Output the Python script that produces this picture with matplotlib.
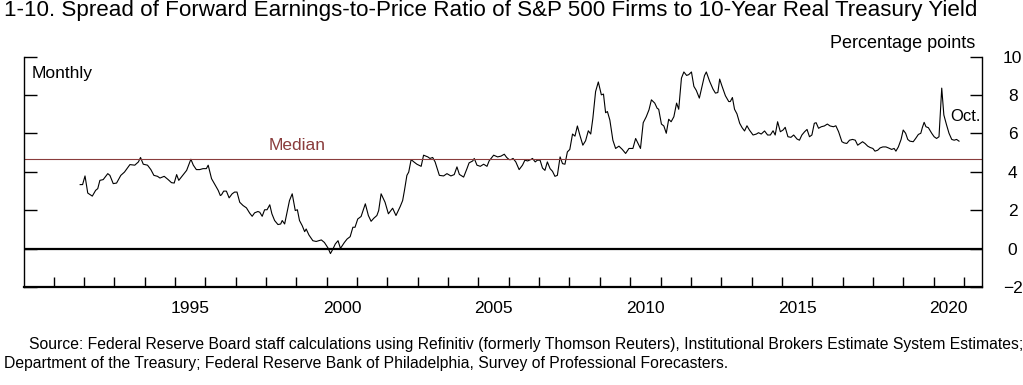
import matplotlib
matplotlib.use('Agg')
import matplotlib.pyplot as plt
from matplotlib.ticker import MultipleLocator, FixedLocator, NullFormatter, FixedFormatter

plt.rcParams['font.family'] = ['Liberation Sans', 'DejaVu Sans']

# monthly spread (decimal year, percentage points)
years = [
    1991.87, 1991.95,
    1992.03, 1992.12, 1992.27, 1992.38, 1992.45, 1992.52, 1992.63, 1992.78, 1992.85, 1992.96,
    1993.07, 1993.21, 1993.33, 1993.51, 1993.67, 1993.79, 1993.86, 1993.95,
    1994.09, 1994.20, 1994.30, 1994.42, 1994.50, 1994.64, 1994.77, 1994.88, 1994.97,
    1995.05, 1995.12, 1995.27, 1995.38, 1995.52, 1995.60, 1995.70, 1995.81, 1995.92,
    1996.03, 1996.09, 1996.20, 1996.42, 1996.49, 1996.53, 1996.60, 1996.69, 1996.78, 1996.88, 1996.96,
    1997.04, 1997.13, 1997.24, 1997.35, 1997.46, 1997.54, 1997.62, 1997.73, 1997.79, 1997.87, 1997.95,
    1998.03, 1998.12, 1998.19, 1998.28, 1998.39, 1998.48, 1998.53, 1998.61, 1998.70, 1998.77, 1998.86, 1998.96,
    1999.03, 1999.10, 1999.19, 1999.27, 1999.32, 1999.41, 1999.54, 1999.65, 1999.82, 1999.92,
    2000.04, 2000.12, 2000.20, 2000.28, 2000.37, 2000.45, 2000.58, 2000.67, 2000.77, 2000.86, 2000.93,
    2001.02, 2001.13, 2001.27, 2001.37, 2001.46, 2001.55, 2001.65, 2001.71, 2001.79, 2001.92,
    2002.03, 2002.17, 2002.28, 2002.42, 2002.50, 2002.56, 2002.64, 2002.70, 2002.78, 2002.87, 2002.97,
    2003.11, 2003.19, 2003.33, 2003.40, 2003.49, 2003.57, 2003.71, 2003.85, 2003.96,
    2004.09, 2004.20, 2004.29, 2004.37, 2004.51, 2004.62, 2004.69, 2004.81, 2004.86, 2004.95,
    2005.06, 2005.17, 2005.28, 2005.35, 2005.50, 2005.63, 2005.74, 2005.85, 2005.93,
    2006.01, 2006.07, 2006.14, 2006.23, 2006.34, 2006.45, 2006.53, 2006.62, 2006.72, 2006.78, 2006.87, 2006.94,
    2007.03, 2007.11, 2007.19, 2007.27, 2007.36, 2007.44, 2007.52, 2007.60, 2007.69, 2007.77, 2007.85, 2007.93,
    2008.01, 2008.10, 2008.18, 2008.26, 2008.34, 2008.44, 2008.53, 2008.62, 2008.70, 2008.77, 2008.86, 2008.95,
    2009.05, 2009.12, 2009.19, 2009.25, 2009.33, 2009.43, 2009.52, 2009.63, 2009.74, 2009.85, 2009.96,
    2010.09, 2010.18, 2010.27, 2010.34, 2010.43, 2010.53, 2010.62, 2010.70, 2010.81, 2010.89, 2010.94,
    2011.03, 2011.11, 2011.19, 2011.27, 2011.35, 2011.44, 2011.53, 2011.60, 2011.69, 2011.77, 2011.86, 2011.93,
    2012.02, 2012.10, 2012.18, 2012.28, 2012.37, 2012.45, 2012.51, 2012.62, 2012.73, 2012.81, 2012.89, 2012.95,
    2013.03, 2013.14, 2013.25, 2013.30, 2013.37, 2013.44, 2013.52, 2013.61, 2013.69, 2013.77, 2013.85, 2013.93,
    2014.05, 2014.16, 2014.23, 2014.32, 2014.43, 2014.53, 2014.62, 2014.71, 2014.78, 2014.86, 2014.95,
    2015.04, 2015.11, 2015.20, 2015.30, 2015.39, 2015.50, 2015.58, 2015.66, 2015.75, 2015.83, 2015.91, 2015.99,
    2016.07, 2016.13, 2016.21, 2016.30, 2016.40, 2016.50, 2016.59, 2016.70, 2016.78, 2016.87, 2016.98,
    2017.05, 2017.14, 2017.23, 2017.33, 2017.42, 2017.50, 2017.58, 2017.66, 2017.74, 2017.83, 2017.91,
    2018.00, 2018.07, 2018.16, 2018.24, 2018.33, 2018.43, 2018.51, 2018.62, 2018.70, 2018.76, 2018.84, 2018.93,
    2019.00, 2019.08, 2019.15, 2019.22, 2019.33, 2019.41, 2019.50, 2019.58, 2019.63, 2019.69, 2019.75, 2019.83, 2019.94,
    2020.02, 2020.10, 2020.18, 2020.27, 2020.34, 2020.43, 2020.51, 2020.60, 2020.68, 2020.76, 2020.84,
]
spread = [
    3.34, 3.34,
    3.79, 2.90, 2.74, 3.04, 3.13, 3.56, 3.60, 3.91, 3.82, 3.39,
    3.42, 3.82, 3.99, 4.38, 4.35, 4.52, 4.75, 4.40,
    4.35, 4.12, 3.82, 3.77, 3.68, 3.77, 3.60, 3.44, 3.42,
    3.86, 3.56, 3.86, 4.08, 4.66, 4.35, 4.12, 4.12, 4.17,
    4.17, 4.35, 3.65, 3.04, 2.77, 2.81, 3.00, 3.00, 2.65, 2.86, 2.95,
    2.95, 2.42, 2.25, 2.13, 1.85, 1.69, 1.87, 1.94, 1.90, 1.69, 2.03,
    2.03, 2.29, 1.82, 1.47, 1.26, 1.29, 1.47, 1.29, 1.99, 2.51, 2.86, 1.99,
    2.03, 1.47, 1.20, 0.89, 1.03, 0.72, 0.42, 0.38, 0.46, 0.33,
    0.04, -0.25, -0.02, 0.25, 0.42, 0.02, 0.33, 0.51, 0.63, 1.12, 1.12,
    1.55, 1.68, 2.34, 1.73, 1.43, 1.59, 1.73, 1.99, 2.86, 2.42,
    1.82, 2.11, 1.73, 2.20, 2.51, 3.04, 3.82, 3.99, 4.64, 4.52, 4.40,
    4.29, 4.87, 4.78, 4.70, 4.75, 4.52, 3.82, 3.79, 3.91,
    3.79, 3.86, 4.26, 3.87, 3.73, 4.17, 4.47, 4.57, 4.70, 4.35,
    4.29, 4.40, 4.29, 4.57, 4.87, 4.78, 4.82, 4.92, 4.75,
    4.64, 4.64, 4.70, 4.52, 4.12, 4.35, 4.61, 4.57, 4.64, 4.70, 4.52, 4.61,
    4.61, 4.20, 4.08, 4.52, 4.17, 4.03, 3.77, 3.82, 4.78, 4.43, 4.40, 5.04,
    5.17, 5.97, 5.86, 6.39, 5.92, 5.39, 5.62, 6.14, 5.97, 6.79, 8.18, 8.68,
    8.01, 8.05, 7.08, 7.14, 6.70, 5.65, 5.22, 5.34, 5.17, 4.96, 5.22,
    5.22, 5.74, 5.45, 5.22, 6.56, 6.87, 7.23, 7.75, 7.58, 7.31, 7.26,
    6.49, 6.39, 6.01, 6.74, 6.61, 6.87, 7.58, 7.26, 8.88, 9.20, 9.02, 9.06,
    9.20, 8.45, 8.24, 7.84, 8.45, 9.01, 9.20, 8.71, 8.31, 8.10, 8.13, 8.83,
    8.45, 7.96, 7.66, 7.66, 7.87, 7.26, 7.02, 6.53, 6.30, 6.13, 6.40, 6.18,
    5.92, 5.97, 6.04, 5.97, 6.13, 5.92, 5.92, 6.14, 5.92, 6.61, 6.09,
    6.18, 6.32, 5.83, 5.80, 5.92, 5.71, 5.65, 5.92, 6.09, 6.21, 5.83, 5.92,
    6.53, 6.56, 6.27, 6.35, 6.39, 6.49, 6.39, 6.35, 6.40, 6.09, 5.57,
    5.51, 5.48, 5.65, 5.69, 5.65, 5.39, 5.48, 5.57, 5.48, 5.34, 5.27,
    5.22, 5.08, 5.13, 5.25, 5.30, 5.30, 5.25, 5.17, 5.22, 5.08, 5.30, 5.69,
    6.18, 6.01, 5.69, 5.60, 5.57, 5.74, 5.95, 6.01, 6.30, 6.58, 6.35, 6.30, 6.01,
    5.83, 5.74, 5.83, 8.36, 6.96, 6.44, 6.01, 5.69, 5.65, 5.69, 5.60,
]
median = 4.65
year_labels = ['1995', '2000', '2005', '2010', '2015', '2020']
label_years = [1995, 2000, 2005, 2010, 2015, 2020]

maroon = '#8a3c3c'

fig = plt.figure(figsize=(10.23, 3.85), dpi=100)
ax = fig.add_axes([0.0235, 0.254, 0.9365, 0.599])

ax.plot(years, spread, color='black', linewidth=0.8)
ax.axhline(median, color=maroon, linewidth=0.8)
ax.axhline(0, color='black', linewidth=1.6)

ax.set_xlim(1990.02, 2021.6)
ax.set_ylim(-2, 10)

ax.spines['top'].set_visible(False)
ax.spines['left'].set_linewidth(1.0)
ax.spines['right'].set_linewidth(1.0)
ax.spines['bottom'].set_linewidth(1.6)

ax.yaxis.set_major_locator(MultipleLocator(2))
ax.tick_params(axis='y', which='major', left=True, right=True, labelleft=False,
               labelright=True, direction='in', length=9, width=1.0, pad=22,
               labelsize=12.5)

ax.xaxis.set_major_locator(FixedLocator(list(range(1991, 2022))))
ax.xaxis.set_major_formatter(NullFormatter())
ax.xaxis.set_minor_locator(FixedLocator([y + 0.5 for y in label_years]))
ax.xaxis.set_minor_formatter(FixedFormatter(year_labels))
ax.tick_params(axis='x', which='major', direction='in', length=7.5, width=1.0)
ax.tick_params(axis='x', which='minor', length=0, pad=10, labelsize=12.5)

ax.text(0.008, 0.928, 'Monthly', transform=ax.transAxes, fontsize=12.5,
        ha='left', va='center')
ax.text(1999.03, 5.39, 'Median', color=maroon, fontsize=12.5, ha='center', va='center')
ax.text(2021.04, 6.86, 'Oct.', fontsize=12, ha='center', va='center')

fig.text(0.953, 0.888, 'Percentage points', fontsize=13, ha='right', va='center')
fig.text(0.004, 0.973, '1-10. Spread of Forward Earnings-to-Price Ratio of S&P 500 Firms '
         'to 10-Year Real Treasury Yield', fontsize=16.1, ha='left', va='center')
fig.text(0.028, 0.104, 'Source: Federal Reserve Board staff calculations using Refinitiv '
         '(formerly Thomson Reuters), Institutional Brokers Estimate System Estimates;',
         fontsize=11.3, ha='left', va='center')
fig.text(0.004, 0.057, 'Department of the Treasury; Federal Reserve Bank of Philadelphia, '
         'Survey of Professional Forecasters.', fontsize=11.3, ha='left', va='center')

fig.canvas.draw()
for t in ax.yaxis.get_major_ticks():
    t.label2.set_horizontalalignment('center')

fig.savefig('out.png', dpi=100)
